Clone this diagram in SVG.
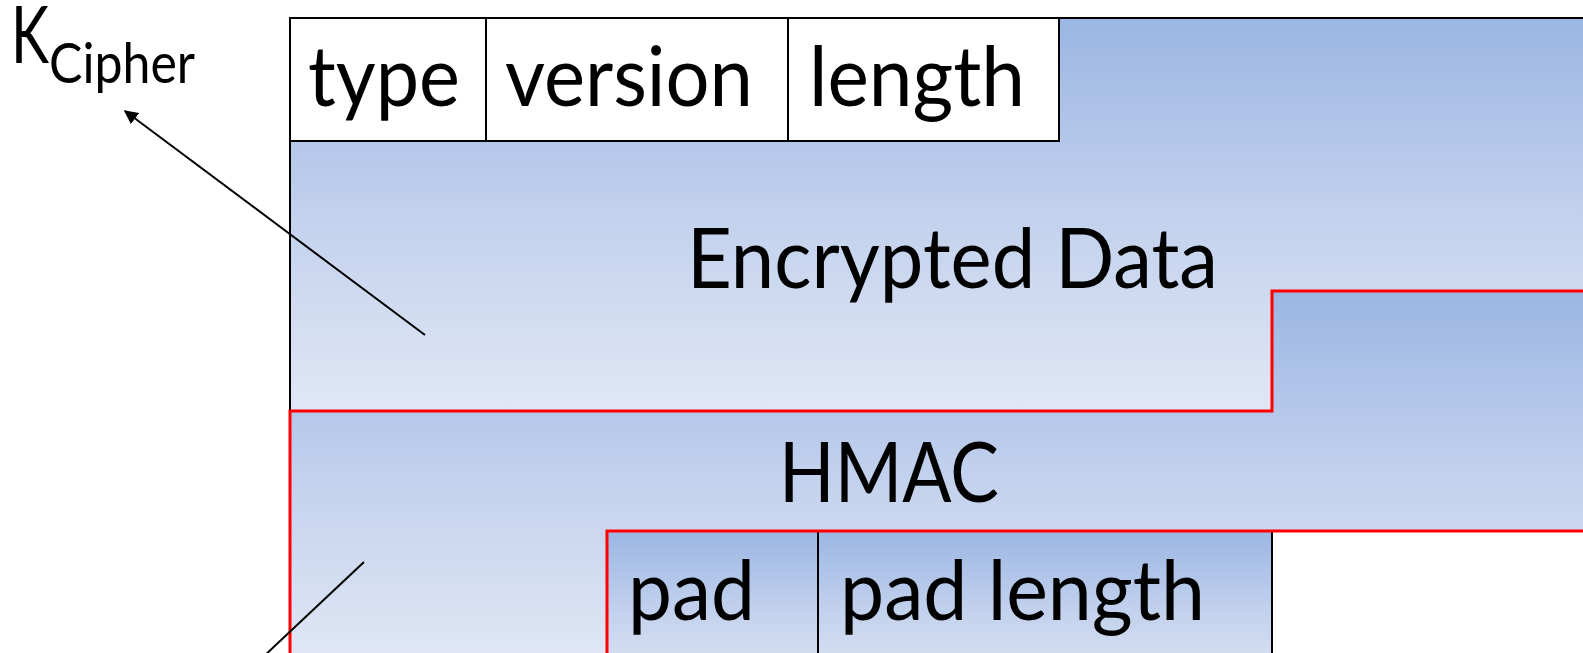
<svg xmlns="http://www.w3.org/2000/svg" width="1583" height="653" viewBox="0 0 1583 653">
<style>
text{font-family:Lato,"Liberation Sans",sans-serif;fill:#000}
.lbl{font-size:84px}
.blk{stroke:#000;stroke-width:2}
.red{stroke:#ff0000;stroke-width:3}
.box{fill:#fff;stroke:#000;stroke-width:2}
.conn{stroke:#000;stroke-width:2;fill:none}
</style>
<defs>
<linearGradient id="gEnc" gradientUnits="userSpaceOnUse" x1="0" y1="18" x2="0" y2="411">
<stop offset="0" stop-color="#9bb6e3"/><stop offset="0.5" stop-color="#c2d1ed"/><stop offset="1" stop-color="#e1e7f5"/>
</linearGradient>
<linearGradient id="gMac" gradientUnits="userSpaceOnUse" x1="0" y1="291" x2="0" y2="660">
<stop offset="0" stop-color="#9bb6e3"/><stop offset="0.5" stop-color="#c2d1ed"/><stop offset="1" stop-color="#e1e7f5"/>
</linearGradient>
<linearGradient id="gPad" gradientUnits="userSpaceOnUse" x1="0" y1="531" x2="0" y2="690">
<stop offset="0" stop-color="#9bb6e3"/><stop offset="0.5" stop-color="#c2d1ed"/><stop offset="1" stop-color="#e1e7f5"/>
</linearGradient>
<marker id="arr" viewBox="0 0 10 10" refX="9" refY="5" markerWidth="7" markerHeight="7" orient="auto-start-reverse" markerUnits="strokeWidth">
<path d="M0,0 L10,5 L0,10 z" fill="#000"/>
</marker>
</defs>

<g id="encrypted">
<polygon points="290,18 1595,18 1595,291 1272,291 1272,411 290,411" fill="url(#gEnc)" class="blk"/>
<text class="lbl" x="687" y="288" textLength="531" lengthAdjust="spacingAndGlyphs">Encrypted Data</text>
</g>

<g id="type">
<rect x="290" y="18" width="196" height="123" class="box"/>
<text class="lbl" x="308" y="106" textLength="152" lengthAdjust="spacingAndGlyphs">type</text>
</g>
<g id="version">
<rect x="486" y="18" width="302" height="123" class="box"/>
<text class="lbl" x="505" y="106" textLength="248" lengthAdjust="spacingAndGlyphs">version</text>
</g>
<g id="length">
<rect x="788" y="18" width="271" height="123" class="box"/>
<text class="lbl" x="809" y="106" textLength="216" lengthAdjust="spacingAndGlyphs">length</text>
</g>

<g id="pad">
<rect x="607" y="531" width="211" height="140" fill="url(#gPad)" class="blk"/>
<text class="lbl" x="628" y="620" textLength="127" lengthAdjust="spacingAndGlyphs">pad</text>
</g>
<g id="padlength">
<rect x="818" y="531" width="454" height="140" fill="url(#gPad)" class="blk"/>
<text class="lbl" x="840" y="620" textLength="365" lengthAdjust="spacingAndGlyphs">pad length</text>
</g>

<g id="hmac">
<polygon points="290,411 1272,411 1272,291 1595,291 1595,531 607,531 607,665 290,665" fill="url(#gMac)" class="red"/>
<text class="lbl" x="779" y="502" textLength="220" lengthAdjust="spacingAndGlyphs">HMAC</text>
</g>

<g id="kcipher">
<text x="11" y="63"><tspan font-size="80" textLength="38" lengthAdjust="spacingAndGlyphs">K</tspan><tspan x="49" y="83" font-size="56" textLength="146" lengthAdjust="spacingAndGlyphs">Cipher</tspan></text>
</g>

<g id="connectors">
<line x1="425" y1="335" x2="125" y2="111" class="conn" marker-end="url(#arr)"/>
<line x1="364" y1="562" x2="262" y2="658" class="conn"/>
</g>
</svg>
